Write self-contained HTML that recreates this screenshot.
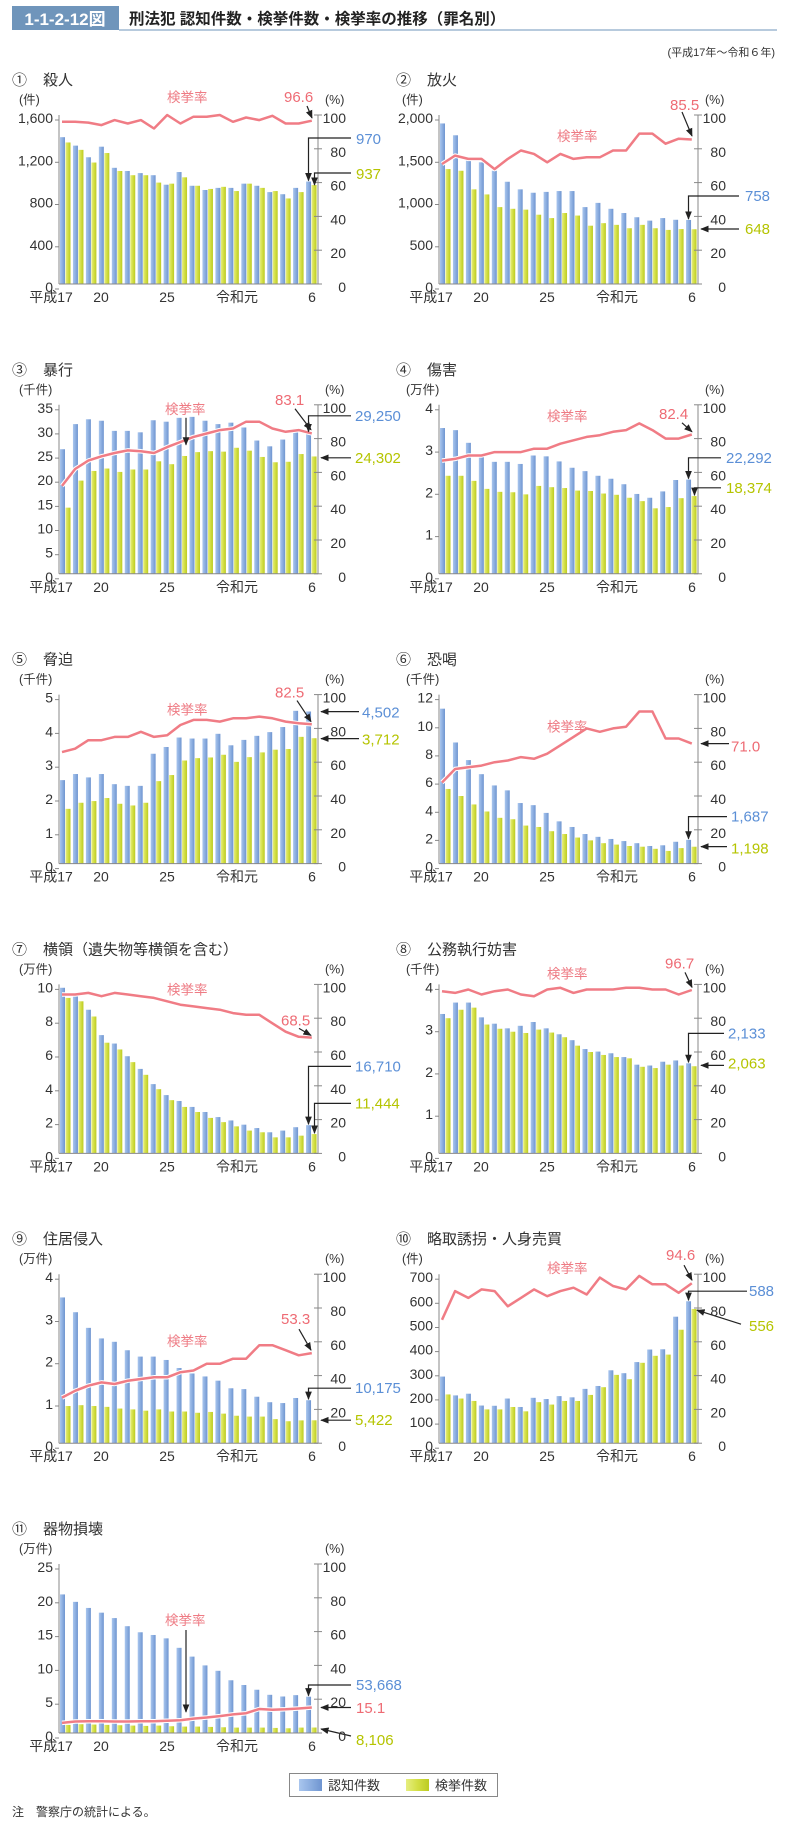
<!DOCTYPE html>
<html><head><meta charset="utf-8"><style>
html,body{margin:0;padding:0;background:#fff;}
svg{display:block;}
text{font-family:"Liberation Sans","Noto Sans CJK JP",sans-serif;fill:#333;}
.t{font-size:15px;}
.u{font-size:12.5px;}
.l{font-size:14px;text-anchor:end;transform:translateY(-2px);}
.r{font-size:14px;text-anchor:end;transform:translateY(-2px);}
.x{font-size:14px;text-anchor:middle;}
.vb{font-size:15px;fill:#5b8fd6;}
.vg{font-size:15px;fill:#b5c400;}
.vr{font-size:15px;fill:#ee6b74;}
.k{font-size:13.5px;fill:#ee7b84;}
</style></head><body>
<svg id="s" width="785" height="1823" viewBox="0 0 785 1823" xmlns="http://www.w3.org/2000/svg">
<defs>
<linearGradient id="gb" x1="0" x2="1"><stop offset="0" stop-color="#a9c6ee"/><stop offset="0.5" stop-color="#8caee0"/><stop offset="1" stop-color="#6f95d0"/></linearGradient>
<linearGradient id="gg" x1="0" x2="1"><stop offset="0" stop-color="#e6ee80"/><stop offset="0.5" stop-color="#d3df45"/><stop offset="1" stop-color="#bccb22"/></linearGradient>
<marker id="ah" viewBox="0 0 10 10" refX="9" refY="5" markerWidth="7" markerHeight="7" orient="auto-start-reverse"><path d="M0,1 L10,5 L0,9 z" fill="#222"/></marker>
</defs>
<rect x="12" y="6" width="107" height="24" fill="#6f95bb"/>
<text x="65" y="25" style="font-size:17px;font-weight:bold;fill:#fff;text-anchor:middle">1-1-2-12図</text>
<line x1="119" y1="30" x2="777" y2="30" stroke="#6f95bb" stroke-width="1"/>
<text x="129" y="24" style="font-size:15.5px;font-weight:bold;fill:#222">刑法犯 認知件数・検挙件数・検挙率の推移（罪名別）</text>
<text x="775" y="56" style="font-size:11px;text-anchor:end">(平成17年～令和６年)</text>

<g id="c1" transform="translate(59,115)">
<text x="-47" y="-30" class="t">①</text><text x="-16" y="-30" class="t">殺人</text>
<text x="-40" y="-11" class="u">(件)</text><text x="266" y="-11" class="u">(%)</text>
<text x="-6" y="179" class="l">0</text><text x="-6" y="136.8" class="l">400</text><text x="-6" y="94.5" class="l">800</text><text x="-6" y="52.3" class="l">1,200</text><text x="-6" y="10" class="l">1,600</text>
<text x="287" y="179" class="r">0</text><text x="287" y="145.2" class="r">20</text><text x="287" y="111.4" class="r">40</text><text x="287" y="77.6" class="r">60</text><text x="287" y="43.8" class="r">80</text><text x="287" y="10" class="r">100</text>
<text x="-8" y="187" class="x">平成17</text><text x="42" y="187" class="x">20</text><text x="108" y="187" class="x">25</text><text x="178" y="187" class="x">令和元</text><text x="253" y="187" class="x">6</text>
<text x="108" y="-13" class="k">検挙率</text>
<text x="297" y="29" class="vb">970</text><text x="297" y="64" class="vg">937</text><text x="225" y="-13" class="vr">96.6</text>
</g>

<g id="c2" transform="translate(439,115)">
<text x="-43" y="-30" class="t">②</text><text x="-12" y="-30" class="t">放火</text>
<text x="-37" y="-11" class="u">(件)</text><text x="266" y="-11" class="u">(%)</text>
<text x="-6" y="179" class="l">0</text><text x="-6" y="136.8" class="l">500</text><text x="-6" y="94.5" class="l">1,000</text><text x="-6" y="52.3" class="l">1,500</text><text x="-6" y="10" class="l">2,000</text>
<text x="287" y="179" class="r">0</text><text x="287" y="145.2" class="r">20</text><text x="287" y="111.4" class="r">40</text><text x="287" y="77.6" class="r">60</text><text x="287" y="43.8" class="r">80</text><text x="287" y="10" class="r">100</text>
<text x="-8" y="187" class="x">平成17</text><text x="42" y="187" class="x">20</text><text x="108" y="187" class="x">25</text><text x="178" y="187" class="x">令和元</text><text x="253" y="187" class="x">6</text>
<text x="118" y="26" class="k">検挙率</text>
<text x="306" y="86" class="vb">758</text><text x="306" y="119" class="vg">648</text><text x="231" y="-5" class="vr">85.5</text>
</g>

<g id="c3" transform="translate(59,404.8)">
<text x="-47" y="-30" class="t">③</text><text x="-16" y="-30" class="t">暴行</text>
<text x="-40" y="-11" class="u">(千件)</text><text x="266" y="-11" class="u">(%)</text>
<text x="-6" y="179" class="l">0</text><text x="-6" y="154.9" class="l">5</text><text x="-6" y="130.7" class="l">10</text><text x="-6" y="106.6" class="l">15</text><text x="-6" y="82.4" class="l">20</text><text x="-6" y="58.3" class="l">25</text><text x="-6" y="34.1" class="l">30</text><text x="-6" y="10" class="l">35</text>
<text x="287" y="179" class="r">0</text><text x="287" y="145.2" class="r">20</text><text x="287" y="111.4" class="r">40</text><text x="287" y="77.6" class="r">60</text><text x="287" y="43.8" class="r">80</text><text x="287" y="10" class="r">100</text>
<text x="-8" y="187" class="x">平成17</text><text x="42" y="187" class="x">20</text><text x="108" y="187" class="x">25</text><text x="178" y="187" class="x">令和元</text><text x="253" y="187" class="x">6</text>
<text x="106" y="9" class="k">検挙率</text>
<text x="296" y="16" class="vb">29,250</text><text x="296" y="58" class="vg">24,302</text><text x="216" y="0" class="vr">83.1</text>
</g>

<g id="c4" transform="translate(439,404.8)">
<text x="-43" y="-30" class="t">④</text><text x="-12" y="-30" class="t">傷害</text>
<text x="-33" y="-11" class="u">(万件)</text><text x="266" y="-11" class="u">(%)</text>
<text x="-6" y="179" class="l">0</text><text x="-6" y="136.8" class="l">1</text><text x="-6" y="94.5" class="l">2</text><text x="-6" y="52.3" class="l">3</text><text x="-6" y="10" class="l">4</text>
<text x="287" y="179" class="r">0</text><text x="287" y="145.2" class="r">20</text><text x="287" y="111.4" class="r">40</text><text x="287" y="77.6" class="r">60</text><text x="287" y="43.8" class="r">80</text><text x="287" y="10" class="r">100</text>
<text x="-8" y="187" class="x">平成17</text><text x="42" y="187" class="x">20</text><text x="108" y="187" class="x">25</text><text x="178" y="187" class="x">令和元</text><text x="253" y="187" class="x">6</text>
<text x="108" y="16" class="k">検挙率</text>
<text x="287" y="58" class="vb">22,292</text><text x="287" y="88" class="vg">18,374</text><text x="220" y="14" class="vr">82.4</text>
</g>

<g id="c5" transform="translate(59,694.6)">
<text x="-47" y="-30" class="t">⑤</text><text x="-16" y="-30" class="t">脅迫</text>
<text x="-40" y="-11" class="u">(千件)</text><text x="266" y="-11" class="u">(%)</text>
<text x="-6" y="179" class="l">0</text><text x="-6" y="145.2" class="l">1</text><text x="-6" y="111.4" class="l">2</text><text x="-6" y="77.6" class="l">3</text><text x="-6" y="43.8" class="l">4</text><text x="-6" y="10" class="l">5</text>
<text x="287" y="179" class="r">0</text><text x="287" y="145.2" class="r">20</text><text x="287" y="111.4" class="r">40</text><text x="287" y="77.6" class="r">60</text><text x="287" y="43.8" class="r">80</text><text x="287" y="10" class="r">100</text>
<text x="-8" y="187" class="x">平成17</text><text x="42" y="187" class="x">20</text><text x="108" y="187" class="x">25</text><text x="178" y="187" class="x">令和元</text><text x="253" y="187" class="x">6</text>
<text x="108" y="20" class="k">検挙率</text>
<text x="303" y="23" class="vb">4,502</text><text x="303" y="50" class="vg">3,712</text><text x="216" y="3" class="vr">82.5</text>
</g>

<g id="c6" transform="translate(439,694.6)">
<text x="-43" y="-30" class="t">⑥</text><text x="-12" y="-30" class="t">恐喝</text>
<text x="-33" y="-11" class="u">(千件)</text><text x="266" y="-11" class="u">(%)</text>
<text x="-6" y="179" class="l">0</text><text x="-6" y="150.8" class="l">2</text><text x="-6" y="122.7" class="l">4</text><text x="-6" y="94.5" class="l">6</text><text x="-6" y="66.3" class="l">8</text><text x="-6" y="38.2" class="l">10</text><text x="-6" y="10" class="l">12</text>
<text x="287" y="179" class="r">0</text><text x="287" y="145.2" class="r">20</text><text x="287" y="111.4" class="r">40</text><text x="287" y="77.6" class="r">60</text><text x="287" y="43.8" class="r">80</text><text x="287" y="10" class="r">100</text>
<text x="-8" y="187" class="x">平成17</text><text x="42" y="187" class="x">20</text><text x="108" y="187" class="x">25</text><text x="178" y="187" class="x">令和元</text><text x="253" y="187" class="x">6</text>
<text x="108" y="37" class="k">検挙率</text>
<text x="292" y="57" class="vr">71.0</text><text x="292" y="127" class="vb">1,687</text><text x="292" y="159" class="vg">1,198</text>
</g>

<g id="c7" transform="translate(59,984.4)">
<text x="-47" y="-30" class="t">⑦</text><text x="-16" y="-30" class="t">横領（遺失物等横領を含む）</text>
<text x="-40" y="-11" class="u">(万件)</text><text x="266" y="-11" class="u">(%)</text>
<text x="-6" y="179" class="l">0</text><text x="-6" y="145.2" class="l">2</text><text x="-6" y="111.4" class="l">4</text><text x="-6" y="77.6" class="l">6</text><text x="-6" y="43.8" class="l">8</text><text x="-6" y="10" class="l">10</text>
<text x="287" y="179" class="r">0</text><text x="287" y="145.2" class="r">20</text><text x="287" y="111.4" class="r">40</text><text x="287" y="77.6" class="r">60</text><text x="287" y="43.8" class="r">80</text><text x="287" y="10" class="r">100</text>
<text x="-8" y="187" class="x">平成17</text><text x="42" y="187" class="x">20</text><text x="108" y="187" class="x">25</text><text x="178" y="187" class="x">令和元</text><text x="253" y="187" class="x">6</text>
<text x="108" y="10" class="k">検挙率</text>
<text x="296" y="87" class="vb">16,710</text><text x="296" y="124" class="vg">11,444</text><text x="222" y="41" class="vr">68.5</text>
</g>

<g id="c8" transform="translate(439,984.4)">
<text x="-43" y="-30" class="t">⑧</text><text x="-12" y="-30" class="t">公務執行妨害</text>
<text x="-33" y="-11" class="u">(千件)</text><text x="266" y="-11" class="u">(%)</text>
<text x="-6" y="179" class="l">0</text><text x="-6" y="136.8" class="l">1</text><text x="-6" y="94.5" class="l">2</text><text x="-6" y="52.3" class="l">3</text><text x="-6" y="10" class="l">4</text>
<text x="287" y="179" class="r">0</text><text x="287" y="145.2" class="r">20</text><text x="287" y="111.4" class="r">40</text><text x="287" y="77.6" class="r">60</text><text x="287" y="43.8" class="r">80</text><text x="287" y="10" class="r">100</text>
<text x="-8" y="187" class="x">平成17</text><text x="42" y="187" class="x">20</text><text x="108" y="187" class="x">25</text><text x="178" y="187" class="x">令和元</text><text x="253" y="187" class="x">6</text>
<text x="108" y="-6" class="k">検挙率</text>
<text x="289" y="54" class="vb">2,133</text><text x="289" y="84" class="vg">2,063</text><text x="226" y="-16" class="vr">96.7</text>
</g>

<g id="c9" transform="translate(59,1274.2)">
<text x="-47" y="-30" class="t">⑨</text><text x="-16" y="-30" class="t">住居侵入</text>
<text x="-40" y="-11" class="u">(万件)</text><text x="266" y="-11" class="u">(%)</text>
<text x="-6" y="179" class="l">0</text><text x="-6" y="136.8" class="l">1</text><text x="-6" y="94.5" class="l">2</text><text x="-6" y="52.3" class="l">3</text><text x="-6" y="10" class="l">4</text>
<text x="287" y="179" class="r">0</text><text x="287" y="145.2" class="r">20</text><text x="287" y="111.4" class="r">40</text><text x="287" y="77.6" class="r">60</text><text x="287" y="43.8" class="r">80</text><text x="287" y="10" class="r">100</text>
<text x="-8" y="187" class="x">平成17</text><text x="42" y="187" class="x">20</text><text x="108" y="187" class="x">25</text><text x="178" y="187" class="x">令和元</text><text x="253" y="187" class="x">6</text>
<text x="108" y="72" class="k">検挙率</text>
<text x="296" y="119" class="vb">10,175</text><text x="296" y="151" class="vg">5,422</text><text x="222" y="50" class="vr">53.3</text>
</g>

<g id="c10" transform="translate(439,1274.2)">
<text x="-43" y="-30" class="t">⑩</text><text x="-12" y="-30" class="t">略取誘拐・人身売買</text>
<text x="-37" y="-11" class="u">(件)</text><text x="266" y="-11" class="u">(%)</text>
<text x="-6" y="179" class="l">0</text><text x="-6" y="154.9" class="l">100</text><text x="-6" y="130.7" class="l">200</text><text x="-6" y="106.6" class="l">300</text><text x="-6" y="82.4" class="l">400</text><text x="-6" y="58.3" class="l">500</text><text x="-6" y="34.1" class="l">600</text><text x="-6" y="10" class="l">700</text>
<text x="287" y="179" class="r">0</text><text x="287" y="145.2" class="r">20</text><text x="287" y="111.4" class="r">40</text><text x="287" y="77.6" class="r">60</text><text x="287" y="43.8" class="r">80</text><text x="287" y="10" class="r">100</text>
<text x="108" y="-1" class="k">検挙率</text>
<text x="-8" y="187" class="x">平成17</text><text x="42" y="187" class="x">20</text><text x="108" y="187" class="x">25</text><text x="178" y="187" class="x">令和元</text><text x="253" y="187" class="x">6</text>
<text x="310" y="22" class="vb">588</text><text x="310" y="57" class="vg">556</text><text x="227" y="-14" class="vr">94.6</text>
</g>

<g id="c11" transform="translate(59,1564)">
<text x="-47" y="-30" class="t">⑪</text><text x="-16" y="-30" class="t">器物損壊</text>
<text x="-40" y="-11" class="u">(万件)</text><text x="266" y="-11" class="u">(%)</text>
<text x="-6" y="179" class="l">0</text><text x="-6" y="145.2" class="l">5</text><text x="-6" y="111.4" class="l">10</text><text x="-6" y="77.6" class="l">15</text><text x="-6" y="43.8" class="l">20</text><text x="-6" y="10" class="l">25</text>
<text x="287" y="179" class="r">0</text><text x="287" y="145.2" class="r">20</text><text x="287" y="111.4" class="r">40</text><text x="287" y="77.6" class="r">60</text><text x="287" y="43.8" class="r">80</text><text x="287" y="10" class="r">100</text>
<text x="-8" y="187" class="x">平成17</text><text x="42" y="187" class="x">20</text><text x="108" y="187" class="x">25</text><text x="178" y="187" class="x">令和元</text><text x="253" y="187" class="x">6</text>
<text x="106" y="61" class="k">検挙率</text>
<text x="297" y="126" class="vb">53,668</text><text x="297" y="149" class="vr">15.1</text><text x="297" y="181" class="vg">8,106</text>
</g>

<rect x="289.5" y="1773.5" width="208" height="23" fill="#fff" stroke="#888"/>
<rect x="299" y="1779" width="23" height="12" fill="url(#gb)"/>
<text x="328" y="1790" style="font-size:13px">認知件数</text>
<rect x="406" y="1779" width="23" height="12" fill="url(#gg)"/>
<text x="435" y="1790" style="font-size:13px">検挙件数</text>
<text x="12" y="1816" style="font-size:12px">注　警察庁の統計による。</text>
</svg>
<script>
var C={
c1:{m:1600,b:[1390,1310,1200,1300,1100,1070,1050,1030,940,1060,930,890,910,910,950,930,870,850,910,970],g:[1340,1270,1150,1240,1070,1030,1030,960,950,1010,930,900,920,880,950,910,880,810,870,937],r:[96,96,95.5,94,97,95,97,92,100,95,99,99,100,96,98.5,97,99.5,95,95,96.6],
 a:[['e',23,292,249.5,66.6],['e',58,292,255.5,71],['d',248,-9,253,3]]},
c2:{m:2000,b:[1900,1760,1470,1440,1340,1210,1120,1080,1090,1100,1100,910,960,890,840,790,750,780,760,758],g:[1360,1340,1120,1060,910,890,880,820,780,840,810,690,720,700,660,700,660,640,650,648],r:[71,76,74,74,68,74,79,77,72,77,74,75,75,79,79,89,89,83,86,85.5],
 a:[['e',81,300,249.5,105],['h',114,300,262],['d',243,-3,253,21]]},
c3:{m:35,b:[25.8,31,32,31.7,29.6,29.6,29.3,31.8,31.5,32.3,32.5,31.7,31,31.3,30.3,27.6,26.4,27.8,30.1,29.25],g:[13.7,19.3,21.3,21.8,21.1,21.6,21.6,23.3,22.7,24.4,25.2,25.4,25.3,26.1,25.5,24.2,23.1,23.2,24.8,24.3],r:[52,62,67,69.5,71.5,73,72.5,71.5,75,78,81,83,85,86,90,90,86,84,85,83.1],
 a:[['e',11,292,249.5,27.8],['h',53,292,262],['d',236,4,252,25],['d',127,13,127,40]]},
c4:{m:4,b:[3.45,3.4,3.1,2.8,2.65,2.65,2.6,2.8,2.78,2.66,2.51,2.43,2.32,2.25,2.12,1.89,1.8,1.95,2.22,2.23],g:[2.32,2.32,2.2,2.01,1.94,1.93,1.88,2.08,2.05,2.03,1.97,1.96,1.9,1.87,1.8,1.72,1.55,1.58,1.79,1.84],r:[67,68,70,70,72,72,72,74,74,77,79,81,82,84,85,89,85,80,80,82.4],
 a:[['e',53,282,249.5,74.8],['e',83,282,255.5,91.4],['d',243,18,253,27]]},
c5:{m:5,b:[2.47,2.65,2.55,2.65,2.35,2.3,2.3,3.25,3.45,3.73,3.7,3.7,3.84,3.5,3.66,3.78,3.89,4.04,4.52,4.5],g:[1.62,1.8,1.85,1.94,1.77,1.72,1.8,2.44,2.62,3.05,3.12,3.14,3.22,3.01,3.15,3.29,3.37,3.39,3.75,3.71],r:[66,68,73,73,75,75,78,75,76,82,85,85,84,86,86,87,86,84,83,82.5],
 a:[['h',17,300,262],['h',44,300,262],['d',238,6,252,27]]},
c6:{m:12,b:[11,8.6,7.35,6.35,5.55,5.2,4.3,4.15,3.6,3,2.6,2.1,1.9,1.75,1.6,1.45,1.25,1.3,1.55,1.687],g:[5.3,4.8,4.2,3.7,3.25,3.15,2.7,2.6,2.3,2.1,1.85,1.65,1.45,1.35,1.25,1.2,1.05,0.9,1.1,1.198],r:[48,56,57,58,60,61,63,62,65,70,75,80,78,80,81,90,90,74,74,71],
 a:[['h',49,290,262],['e',122,288,249.5,145.2],['h',152,288,262]]},
c7:{m:10,b:[9.8,9.3,8.5,7,6.5,5.75,5,4.1,3.45,3.1,2.75,2.45,2.15,1.95,1.7,1.5,1.25,1.35,1.55,1.671],g:[9.2,9,8.1,6.55,6.15,5.4,4.65,3.8,3.15,2.75,2.45,2.1,1.85,1.6,1.35,1.25,0.95,0.95,1.05,1.144],r:[94,94,95,93,95,94,93,92,90,88,87,86,85,83,82,82,77,72,69,68.5],
 a:[['e',82,292,249.5,140.8],['e',119,292,255.5,149.7],['d',240,44,252,51]]},
c8:{m:4,b:[3.3,3.57,3.57,3.22,3.07,2.96,3.02,3.11,2.96,2.82,2.68,2.47,2.41,2.37,2.28,2.1,2.08,2.17,2.2,2.133],g:[3.2,3.4,3.45,3.05,2.95,2.88,2.85,2.93,2.86,2.75,2.55,2.4,2.33,2.28,2.25,2.05,2.02,2.1,2.08,2.063],r:[96,95,97,94,96,97,94,93,97,98,95,97,97,97,98,98,97,97,94,96.7],
 a:[['e',49,285,249.5,78.9],['h',81,285,262],['d',246,-12,253,3]]},
c9:{m:4,b:[3.45,3.1,2.73,2.48,2.4,2.2,2.05,2.05,1.97,1.78,1.65,1.58,1.48,1.3,1.28,1.1,0.97,0.95,1.07,1.0175],g:[0.88,0.9,0.88,0.86,0.82,0.8,0.77,0.8,0.75,0.75,0.72,0.74,0.7,0.65,0.63,0.63,0.57,0.52,0.54,0.542],r:[27,31,34,36,35,37,38,39,39,42,43,47,47,50,50,58,58,55,52,53.3],
 a:[['e',114,292,249.5,126],['h',146,292,262],['d',240,55,252,76]]},
c10:{m:700,b:[276,198,205,156,155,185,150,188,183,195,190,225,237,302,290,336,388,389,524,588],g:[202,185,175,140,140,150,132,170,160,175,175,200,232,283,265,333,362,367,470,556],r:[73,90,86,91,90,81,86,91,87,90,92,88,98,93,91,99,94,94,89,94.6],
 a:[['e',17,308,249.5,27],['d',302,50,258,36],['d',245,-9,253,6]]},
c11:{m:25,b:[20.5,19.4,18.5,17.8,17,15.8,14.9,14.5,14,12.6,11.3,10,9.2,7.8,7.1,6.4,5.65,5.4,5.6,5.37],g:[1.2,1.3,1.25,1.2,1.15,1.1,1.05,1.1,1,0.95,0.95,0.9,0.85,0.8,0.8,0.8,0.75,0.7,0.8,0.81],r:[6,6.8,7,7,6.8,6.8,7,7,7.2,7.5,8.5,9.2,10,11,11.7,14.2,13.8,14,14.5,15.1],
 a:[['e',121,292,249.5,132.7],['h',143.5,292,262],['d',292,172,262,165],['d',127,66,127,148]]}
};
var NS='http://www.w3.org/2000/svg';
function el(p,n,at){var e=document.createElementNS(NS,n);for(var k in at)e.setAttribute(k,at[k]);p.appendChild(e);return e;}
for(var id in C){var c=C[id],g=document.getElementById(id),H=169,W=259;
 var bg=document.createElementNS(NS,'g');g.insertBefore(bg,g.firstChild);
 for(var i=0;i<20;i++){var x=i*12.95+1;
  var hb=c.b[i]/c.m*H,hg=c.g[i]/c.m*H;
  el(bg,'rect',{x:x,y:H-hb,width:5,height:hb,fill:'url(#gb)'});
  el(bg,'rect',{x:x+5.5,y:H-hg,width:5,height:hg,fill:'url(#gg)'});}
 el(bg,'line',{x1:0,y1:0,x2:0,y2:H,stroke:'#888','stroke-width':1});
 el(bg,'line',{x1:W,y1:0,x2:W,y2:H,stroke:'#888','stroke-width':1});
 el(bg,'line',{x1:0,y1:H,x2:W,y2:H,stroke:'#888','stroke-width':1});
 var ls=g.querySelectorAll('text.l');
 for(var j=0;j<ls.length;j++){var yy=+ls[j].getAttribute('y')-5;el(bg,'line',{x1:-4,y1:yy,x2:0,y2:yy,stroke:'#888'});}
 for(var j=0;j<=5;j++){var yy=H-j*H/5;el(bg,'line',{x1:W-4,y1:yy,x2:W+4,y2:yy,stroke:'#888'});}
 var pts=c.r.map(function(v,i){return (3+i*13.15).toFixed(1)+','+(H-v/100*H).toFixed(1);}).join(' ');
 el(bg,'polyline',{points:pts,fill:'none',stroke:'#fff','stroke-width':4.5,'stroke-linejoin':'round'});
 el(bg,'polyline',{points:pts,fill:'none',stroke:'#f07c85','stroke-width':2.5,'stroke-linejoin':'round'});
 c.a.forEach(function(a){var d;
  if(a[0]=='e')d='M'+a[2]+','+a[1]+' H'+a[3]+' V'+(a[4]-1);
  else if(a[0]=='h')d='M'+a[2]+','+a[1]+' H'+a[3];
  else d='M'+a[1]+','+a[2]+' L'+a[3]+','+a[4];
  el(bg,'path',{d:d,fill:'none',stroke:'#222','stroke-width':1.2,'marker-end':'url(#ah)'});});
}
</script>
</body></html>
